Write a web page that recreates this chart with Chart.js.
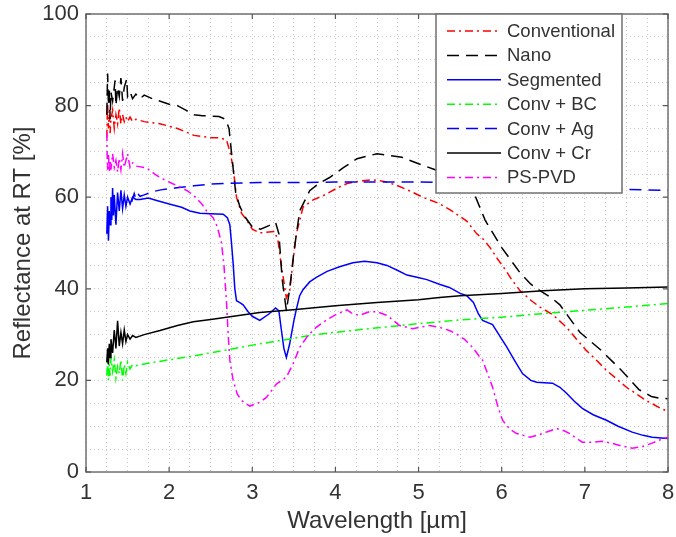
<!DOCTYPE html>
<html><head><meta charset="utf-8">
<script src="https://cdn.jsdelivr.net/npm/chart.js@4/dist/chart.umd.min.js"></script>
<style>html,body{margin:0;padding:0;background:#fff}canvas{display:block}</style>
</head><body>
<canvas id="c" width="676" height="537"></canvas>
<script>
// ---- data ----
const seriesNames = ['Conventional','Nano','Segmented','Conv + BC','Conv + Ag','Conv + Cr','PS-PVD'];
const xTickLabels = [1,2,3,4,5,6,7,8];
const yTickLabels = [0,20,40,60,80,100];

const convX = [1.25,1.26,1.27,1.28,1.29,1.30,1.32,1.34,1.36,1.38,1.40,1.42,1.44,1.46,1.48,1.50,1.53,1.56,1.60,1.70,1.90,2.10,2.30,2.50,2.60,2.69,2.73,2.77,2.81,2.87,2.94,3.00,3.09,3.20,3.27,3.31,3.35,3.39,3.41,3.45,3.49,3.53,3.61,3.72,3.85,4.00,4.14,4.33,4.45,4.60,4.75,4.89,5.05,5.25,5.40,5.58,5.70,5.78,5.86,5.95,6.05,6.12,6.22,6.35,6.46,6.61,6.78,6.90,7.02,7.14,7.26,7.50,7.74,7.90,8.00];
const convY = [73,80.5,75,78,74,77,79,75,78,76,79.5,76,78,76.5,77.5,76.5,77.5,76.5,77,76.5,76,75,73.5,73,73,72.5,70,66.5,60,56.5,54.8,53,52.2,52.4,52.5,50.4,45,40.4,38,39.6,46,52,57.8,59.3,60.3,61.8,63,63.6,63.8,63.4,62.5,61.4,60,58.6,57,54.8,52,50.8,49,46.5,44,42,39.6,37.5,36,34.4,31.6,29,26.5,24.4,22.2,18.5,15.6,14,13.2];

const nanoX = [1.25,1.26,1.27,1.28,1.29,1.30,1.32,1.34,1.35,1.36,1.38,1.40,1.42,1.44,1.46,1.49,1.50,1.53,1.56,1.60,1.65,1.70,1.80,2.00,2.10,2.20,2.30,2.40,2.60,2.68,2.72,2.76,2.80,2.85,2.92,3.00,3.10,3.20,3.28,3.32,3.36,3.41,3.45,3.50,3.57,3.69,3.80,3.93,4.10,4.26,4.50,4.80,5.00,5.20,5.45,5.68,5.80,5.90,6.00,6.10,6.22,6.35,6.46,6.60,6.70,6.82,6.94,7.20,7.45,7.65,7.80,7.90,8.00];
const nanoY = [78,87,80,84,77,83,81,84,85.5,80,84,82,86,81,84,85.8,82,83,81.5,82.5,81.5,82.3,81.5,80.3,80,79,78,77.8,77.6,77,75,68,61,58,55.5,53.5,53,53.8,54.5,52,42,35.2,40,48,57,61.4,63,64.3,66.5,68.4,69.5,68.7,67.3,66,63.5,60.3,55,52,49,46.5,43.5,41,39.6,38,36.5,33.5,30.5,26.5,22,18,16.5,16.1,16];

const segX = [1.25,1.26,1.27,1.28,1.29,1.30,1.31,1.32,1.33,1.34,1.36,1.38,1.40,1.42,1.44,1.46,1.48,1.50,1.53,1.56,1.60,1.65,1.75,1.85,2.00,2.15,2.25,2.37,2.50,2.65,2.70,2.73,2.75,2.77,2.79,2.81,2.85,2.89,2.95,3.00,3.09,3.20,3.28,3.32,3.35,3.38,3.41,3.45,3.50,3.53,3.57,3.61,3.69,3.77,3.90,4.05,4.21,4.35,4.50,4.62,4.75,4.86,4.98,5.10,5.25,5.37,5.50,5.58,5.66,5.72,5.77,5.89,6.00,6.06,6.15,6.25,6.35,6.42,6.61,6.70,6.78,6.87,6.97,7.10,7.26,7.40,7.57,7.70,7.81,8.00];
const segY = [52,58,50.5,57,54,60,55,62,56,60.5,54,61,57,61.5,57.5,60.5,58,60,58.5,60,59.5,59.5,59.8,59.3,58.5,57.8,57,56.5,56.4,56.3,55.5,54,50,45.5,40,37.4,37,36.5,35,34,33.1,34.5,35.8,35.2,31,27,25,28,33,35.5,38.5,39.8,41.5,42.5,43.8,44.8,45.7,46,45.7,45.1,44,43,42.5,42,41,40.3,39,38.5,37,34.5,33.1,32.2,29,27.3,24.5,21.5,20,19.6,19.4,18.5,17.2,15.5,13.9,12.5,11.3,10,8.7,8,7.6,7.3];

const bcX = [1.25,1.26,1.27,1.28,1.29,1.30,1.32,1.34,1.36,1.38,1.40,1.42,1.44,1.46,1.48,1.50,1.53,1.56,1.60,1.70,2.00,2.25,2.50,3.00,3.50,3.69,4.00,4.41,5.00,5.50,6.00,6.50,7.00,7.50,8.00];
const bcY = [21,24,20,23.5,21,25,22,24.5,20.5,23,21.5,24.5,20,23.5,21.5,24,22.5,23.5,23.2,23.6,24.5,25.2,26,27.7,29.2,29.8,30.5,31.3,32.4,33.2,33.8,34.6,35.3,36,36.8];

const agX = [1.55,1.58,1.60,1.63,1.65,1.70,1.80,1.90,2.07,2.30,2.51,2.70,3.09,3.50,4.00,4.50,5.00,5.50,6.00,6.50,7.00,7.50,8.00];
const agY = [59,60.8,59.6,60.6,60.2,60.5,61.2,61.6,62,62.5,62.9,63,63.2,63.2,63.3,63.3,63.3,63.2,63,62.5,62,61.7,61.5];

const crX = [1.25,1.26,1.27,1.28,1.29,1.30,1.32,1.34,1.36,1.38,1.40,1.42,1.44,1.46,1.48,1.50,1.53,1.56,1.60,1.70,1.89,2.10,2.29,2.50,2.69,3.09,3.49,4.00,4.50,5.00,5.25,5.50,6.00,6.50,7.00,7.50,8.00];
const crY = [24,27,23.5,28,25,29,26,31,27,33,27.5,30.5,28,31,28.5,30,29,29.8,29.4,30,30.9,32,32.8,33.3,33.8,34.8,35.4,36.3,37,37.6,38.1,38.5,39,39.6,40,40.2,40.4];

const pvdX = [1.25,1.255,1.26,1.27,1.28,1.29,1.30,1.32,1.34,1.36,1.38,1.40,1.42,1.44,1.46,1.48,1.50,1.53,1.56,1.60,1.73,1.83,1.89,2.01,2.10,2.22,2.30,2.39,2.45,2.53,2.58,2.63,2.66,2.69,2.71,2.73,2.77,2.82,2.87,2.97,3.09,3.17,3.29,3.41,3.50,3.57,3.67,3.77,3.90,4.02,4.14,4.21,4.29,4.41,4.50,4.62,4.77,4.93,5.13,5.25,5.37,5.45,5.55,5.65,5.72,5.77,5.83,5.89,5.95,6.01,6.10,6.18,6.34,6.46,6.55,6.66,6.75,6.82,6.90,6.97,7.10,7.21,7.32,7.42,7.57,7.70,7.81,7.90,8.00];
const pvdY = [74,69,66,69.5,65.5,68,66,69.5,66.5,68,65.5,68.5,66,69.5,66.5,68,69.5,66.5,67.5,66.8,66.4,65,64.3,63.2,62.5,61.4,60.3,58.6,57,55.5,53.5,50,45,37,30,24.4,20,17,15.6,14.4,15.2,16.3,19.2,20.7,24,27.2,29.8,31.6,33.3,34.5,35.4,34.5,34.2,35,35,34.2,32,31.3,32,31.6,30.9,30.2,29,27.2,25.5,24.4,21.5,18.5,14.5,11.3,9.3,8.4,7.6,8.2,8.8,9.5,9,8.4,7.3,6.5,6.5,6.7,6.3,5.8,5.2,5.6,6.3,7,7.6];

// ---- styles ----
const DASHDOT = [8,4,2,4];
const DASH = [12,7];
const seriesStyle = [
  {color:'#ff0000', dash:DASHDOT},
  {color:'#000000', dash:DASH},
  {color:'#0000ff', dash:[]},
  {color:'#00ff00', dash:DASHDOT},
  {color:'#0000ff', dash:DASH},
  {color:'#000000', dash:[]},
  {color:'#ff00ff', dash:DASHDOT}
];
const xs = [convX,nanoX,segX,bcX,agX,crX,pvdX];
const ys = [convY,nanoY,segY,bcY,agY,crY,pvdY];

const FONT = "'Liberation Sans', Arial, Helvetica, sans-serif";
const TXT = '#333333';

const datasets = seriesNames.map((name,i)=>({
  label: name,
  data: xs[i].map((x,k)=>({x:x, y:ys[i][k]})),
  borderColor: seriesStyle[i].color,
  borderDash: seriesStyle[i].dash,
  borderWidth: 1.5,
  pointRadius: 0,
  fill: false,
  tension: 0,
  order: seriesNames.length - i
}));

const framePlugin = {
  id: 'frame',
  afterDatasetsDraw(chart) {
    const ctx = chart.ctx, a = chart.chartArea;
    const sx = chart.scales.x, sy = chart.scales.y;
    ctx.save();
    ctx.strokeStyle = '#707070';
    ctx.lineWidth = 1.5;
    ctx.setLineDash([]);
    ctx.strokeRect(a.left, a.top, a.right - a.left, a.bottom - a.top);
    ctx.lineWidth = 1.2;
    ctx.strokeStyle = '#555';
    const tl = 5;
    ctx.beginPath();
    xTickLabels.forEach(v => {
      const p = sx.getPixelForValue(v);
      ctx.moveTo(p, a.bottom); ctx.lineTo(p, a.bottom - tl);
      ctx.moveTo(p, a.top); ctx.lineTo(p, a.top + tl);
    });
    yTickLabels.forEach(v => {
      const p = sy.getPixelForValue(v);
      ctx.moveTo(a.left, p); ctx.lineTo(a.left + tl, p);
      ctx.moveTo(a.right, p); ctx.lineTo(a.right - tl, p);
    });
    ctx.stroke();

    // legend box
    const lx = a.right - 232, ly = a.top, lw = 186, lh = 179;
    ctx.fillStyle = '#ffffff';
    ctx.fillRect(lx, ly, lw, lh);
    ctx.strokeStyle = '#707070';
    ctx.lineWidth = 1.5;
    ctx.strokeRect(lx, ly, lw, lh);
    ctx.font = '18.5px ' + FONT;
    ctx.textBaseline = 'middle';
    ctx.textAlign = 'left';
    chart.data.datasets.forEach((ds, i) => {
      const yy = ly + 17 + i * 24.4;
      ctx.strokeStyle = ds.borderColor;
      ctx.lineWidth = ds.borderWidth;
      ctx.setLineDash(ds.borderDash || []);
      ctx.beginPath();
      ctx.moveTo(lx + 11, yy); ctx.lineTo(lx + 65, yy);
      ctx.stroke();
      ctx.setLineDash([]);
      ctx.fillStyle = TXT;
      ctx.fillText(ds.label, lx + 71, yy + 1);
    });
    ctx.restore();
  }
};

new Chart(document.getElementById('c'), {
  type: 'line',
  data: { datasets },
  options: {
    responsive: false,
    animation: false,
    devicePixelRatio: 1,
    layout: { padding: { left: 0, right: 8, top: 14, bottom: 0 } },
    plugins: { legend: { display: false }, tooltip: { enabled: false } },
    scales: {
      x: {
        type: 'linear', min: 1, max: 8,
        afterFit(s) { s.height = 65; s.paddingLeft = 0; s.paddingRight = 0; },
        afterBuildTicks(s) { const t=[]; for (let v=1; v<=8.0001; v+=0.25) t.push({value: Math.round(v*100)/100}); s.ticks = t; },
        ticks: { autoSkip: false, maxRotation: 0, padding: 8, color: TXT,
          font: { family: FONT, size: 22 },
          callback: v => xTickLabels.includes(v) ? String(v) : '' },
        grid: { color: '#c8c8c8', lineWidth: 1, drawTicks: false },
        border: { display: false, dash: [1,3] },
        title: { display: true, text: 'Wavelength [µm]', color: TXT,
          font: { family: FONT, size: 24 }, padding: { top: 0, bottom: 1 } }
      },
      y: {
        type: 'linear', min: 0, max: 100,
        afterFit(s) { s.width = 86; s.paddingTop = 0; s.paddingBottom = 0; },
        afterBuildTicks(s) { const t=[]; for (let v=0; v<=100; v+=5) t.push({value: v}); s.ticks = t; },
        ticks: { autoSkip: false, padding: 7, color: TXT,
          font: { family: FONT, size: 22 },
          callback: v => yTickLabels.includes(v) ? String(v) : '' },
        grid: { color: '#c8c8c8', lineWidth: 1, drawTicks: false },
        border: { display: false, dash: [1,3] },
        title: { display: true, text: 'Reflectance at RT [%]', color: TXT,
          font: { family: FONT, size: 24 }, padding: { top: 9, bottom: 0 } }
      }
    }
  },
  plugins: [framePlugin]
});
</script>
</body></html>
